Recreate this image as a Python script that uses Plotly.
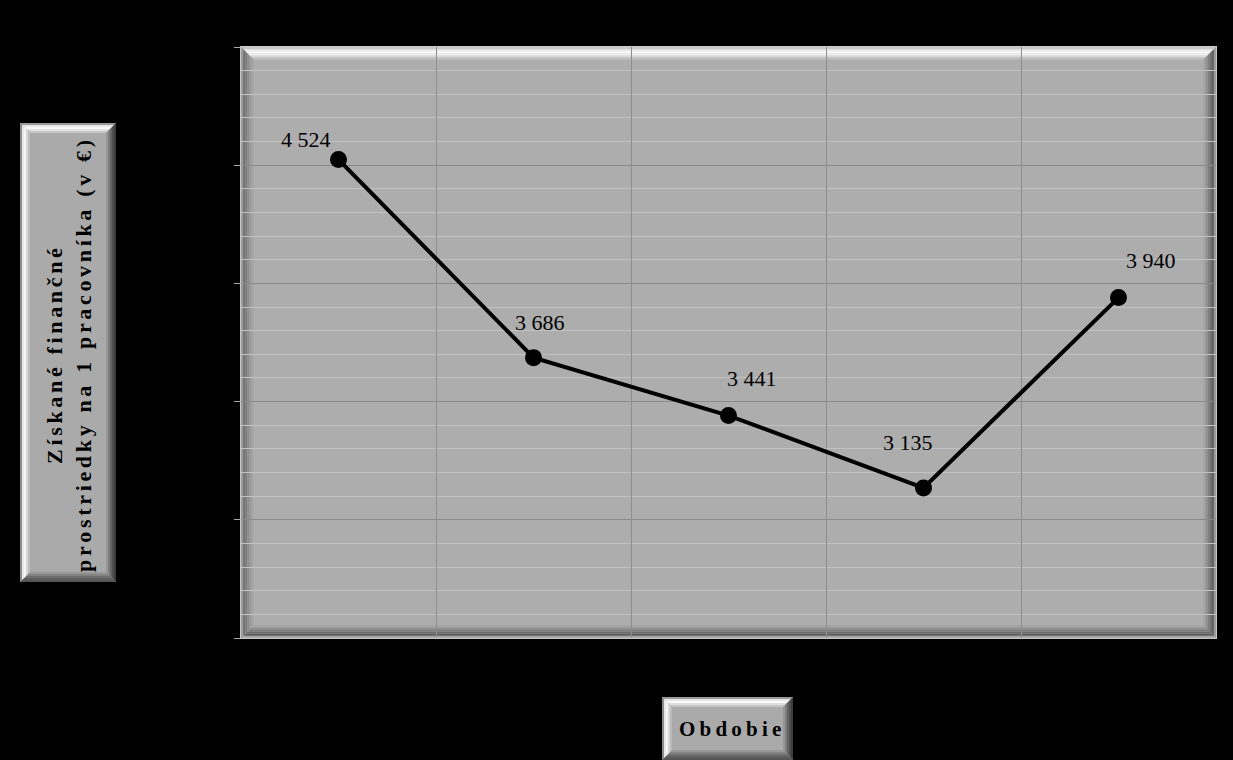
import plotly.graph_objects as go

# Funds obtained per employee (EUR), by period
periods = ["1", "2", "3", "4", "5"]
values = [4524, 3686, 3441, 3135, 3940]
# label offsets (px) for the value annotations
label_dx = [-33, 6, 23, -16, 32]
label_dy = [20, 35, 37, 45, 37]

y_title_lines = ["Získané finančné", "prostriedky na 1 pracovníka (v €)"]
x_title = "Obdobie"

FONT = "Liberation Serif"
W, H = 1233, 760
L, T, R, B = 241, 47, 1216, 638  # plot area in pixels


def fx(px):
    return (px - L) / (R - L)


def fy(py):
    return (B - py) / (B - T)


def spaced(text, gap="\u2006", word="\u2005"):
    out = []
    for ch in text:
        out.append(word if ch == " " else ch)
    return gap.join(out)


def bevel(x0, y0, x1, y1, t, face, top, left, right, bottom, ref, layer):
    xr, yr = ref
    shapes = [dict(type="rect", xref=xr, yref=yr, x0=fx(x0), x1=fx(x1),
                   y0=fy(y0), y1=fy(y1), fillcolor=face,
                   line=dict(width=0), layer=layer)]
    n = len(top)
    for i in range(n):
        a = i * t / n
        b = (i + 1) * t / n
        polys = [
            (top[i], [(x0 + a, y0 + a), (x1 - a, y0 + a), (x1 - b, y0 + b), (x0 + b, y0 + b)]),
            (bottom[i], [(x0 + a, y1 - a), (x1 - a, y1 - a), (x1 - b, y1 - b), (x0 + b, y1 - b)]),
            (left[i], [(x0 + a, y0 + a), (x0 + b, y0 + b), (x0 + b, y1 - b), (x0 + a, y1 - a)]),
            (right[i], [(x1 - a, y0 + a), (x1 - b, y0 + b), (x1 - b, y1 - b), (x1 - a, y1 - a)]),
        ]
        for col, pts in polys:
            path = "M " + " L ".join(f"{fx(px):.5f},{fy(py):.5f}" for px, py in pts) + " Z"
            shapes.append(dict(type="path", xref=xr, yref=yr, path=path,
                               fillcolor=col, line=dict(width=0), layer=layer))
    return shapes


shapes = []
# bevelled plot area
shapes += bevel(L, T, R, B, 13, "#adadad",
                top=["#c8c8c8", "#ececec", "#ffffff", "#f2f2f2", "#d8d8d8", "#bcbcbc"],
                left=["#9c9c9c", "#707070", "#7e7e7e", "#8e8e8e", "#9c9c9c", "#a7a7a7"],
                right=["#9a9a9a", "#5c5c5c", "#6a6a6a", "#7e7e7e", "#939393", "#a5a5a5"],
                bottom=["#a8a8a8", "#5e5e5e", "#6c6c6c", "#7e7e7e", "#929292", "#a5a5a5"],
                ref=("x domain", "y domain"), layer="below")
# bevelled title boxes
box_top = ["#9a9a9a", "#e6e6e6", "#fafafa", "#e0e0e0", "#c6c6c6"]
box_left = ["#8c8c8c", "#e8e8e8", "#f6f6f6", "#d6d6d6", "#bcbcbc"]
box_right = ["#3c3c3c", "#505050", "#646464", "#7e7e7e", "#969696"]
box_bottom = ["#555555", "#5e5e5e", "#6e6e6e", "#828282", "#989898"]
shapes += bevel(20, 123, 116, 582, 10, "#aaaaaa", box_top, box_left, box_right, box_bottom,
                ref=("paper", "paper"), layer="above")
shapes += bevel(662, 697, 793, 760, 10, "#aaaaaa", box_top, box_left, box_right, box_bottom,
                ref=("paper", "paper"), layer="above")

fig = go.Figure()
fig.add_trace(go.Scatter(
    x=periods, y=values, mode="lines+markers",
    line=dict(color="black", width=4),
    marker=dict(color="black", size=17),
    hoverinfo="skip", showlegend=False,
))

annotations = []
for i, (v, dx, dy) in enumerate(zip(values, label_dx, label_dy)):
    annotations.append(dict(
        x=i, y=v, xref="x", yref="y", text=f"{v:,}".replace(",", " "),
        showarrow=False, xshift=dx, yshift=dy,
        font=dict(family=FONT, size=22, color="black"),
    ))
annotations.append(dict(
    x=fx(69), y=fy(356), xref="paper", yref="paper",
    text="<b>" + spaced(y_title_lines[0]) + "<br>" + spaced(y_title_lines[1]) + "</b>",
    textangle=-90, showarrow=False, xanchor="center", yanchor="middle",
    font=dict(family=FONT, size=22, color="black"),
))
annotations.append(dict(
    x=fx(730), y=fy(729), xref="paper", yref="paper",
    text="<b>" + spaced(x_title, gap="\u2009") + "</b>",
    showarrow=False, xanchor="center", yanchor="middle",
    font=dict(family=FONT, size=21, color="black"),
))

fig.update_layout(
    width=W, height=H,
    margin=dict(l=L, r=W - R, t=T, b=H - B, pad=0),
    paper_bgcolor="black", plot_bgcolor="#adadad",
    shapes=shapes, annotations=annotations,
    showlegend=False,
)
fig.update_xaxes(
    type="category", range=[-0.5, 4.5], tickson="boundaries",
    showgrid=True, gridcolor="#8e8e8e", gridwidth=1,
    showticklabels=False, ticks="",
    showline=True, linecolor="#c8c8c8", linewidth=1, mirror=True,
    zeroline=False, fixedrange=True,
)
fig.update_yaxes(
    range=[2500, 5000], dtick=500, tick0=2500,
    showgrid=True, gridcolor="#8a8a8a", gridwidth=1,
    minor=dict(dtick=100, showgrid=True, gridcolor="#c2c2c2", gridwidth=1, ticks=""),
    showticklabels=False, ticks="outside", ticklen=6, tickcolor="#a8a8a8",
    showline=True, linecolor="#c8c8c8", linewidth=1, mirror=True,
    zeroline=False, fixedrange=True,
)

fig.write_html("out.html", config={"displayModeBar": False})
